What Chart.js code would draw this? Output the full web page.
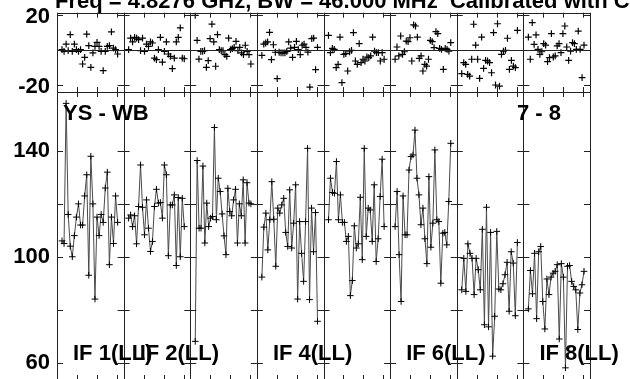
<!DOCTYPE html>
<html><head><meta charset="utf-8">
<script src="https://cdn.jsdelivr.net/npm/chart.js@4.4.0/dist/chart.umd.min.js"></script>
<style>
html,body{margin:0;padding:0;background:#fff;overflow:hidden;width:630px;height:379px;}
#wrap{position:relative;width:630px;height:382px;}
canvas{position:absolute;left:0;top:0;}
</style></head><body>
<div id="wrap"><canvas id="bot" width="630" height="382"></canvas><canvas id="top" width="630" height="100"></canvas></div>
<script>
// ---- data ----
const titleText = "Freq = 4.8276 GHz, BW = 46.000 MHz  Calibrated with CL # 2";
const baselineText = "YS - WB";
const pageText = "7 - 8";
const panelLabels = ["IF 1(LL)", "IF 2(LL)", "", "IF 4(LL)", "", "IF 6(LL)", "", "IF 8(LL)"];
const phaseTicks = [-20, 20];
const ampTicks = [60, 80, 100, 120, 140];
const ampTickLabels = [60, 100, 140];

const phaseIF1 = [0.4,-0.6,3.6,-0.2,9,-0.6,3.6,0.4,-0.6,0.4,-7.8,-4,9.3,2.7,-9.7,-1.5,2.3,4.6,2.3,-0.6,-11.6,-0.6,2.3,2.7,10.5,1.3,0.4,-2.1];
const phaseIF2 = [0.4,7,4.8,7.4,7,6.1,-0.2,7,-0.6,3.6,2.3,4.8,4.2,-4.4,-5.3,0.4,7.4,-6.7,-0.6,4.8,-2.1,-3.4,-10.5,-4.4,4.8,7.4,12.8,-4.4,-4.8];
const phaseIF3 = [20,5.7,-5,-0.6,-0.6,-0.2,-9.7,-5.9,6.7,15,4.8,-9.1,9,0.4,-0.2,-0.2,-2.5,-3.4,7,0.4,1,1.7,5.1,-0.2,1.7,-1.5,-2.5,2.9,-0.6,-2.5,-7.8];
const phaseIF4 = [-2.9,3.6,4.2,4.8,10.3,-5.3,3.2,-1.1,-16.2,-1.1,-1.5,-1.5,-1.5,-0.6,4.8,1.3,-4,1.7,5.1,0.4,-2.5,2.9,3.6,1.7,-1,-21,6.7,7,-11,1.7];
const phaseIF5 = [8.6,-1.3,1.1,0.6,-9.9,-8,7.6,-18.5,-2.3,-1.9,-11.8,-0.8,0,10.1,-6.1,-8,3.8,-7,-5.1,-6.1,-3.8,-4.2,-3.2,7.6,-0.4,-1.3,-1.3,-6.1,-1.3,-5.1];
const phaseIF6 = [-5.1,1.9,-3.2,8.2,-2.3,-0.8,5.3,5,7.2,-6.1,14.5,13.9,7.6,-4.6,-3.2,-11.8,-8,-9,-5.1,5.7,5,1.5,10.7,9.5,1.1,0.6,-10.9,1.1,0.6,-0.4,4.4];
const phaseIF7 = [-13.3,-7,-8,-13.7,-14.7,-5.1,14.9,3,-5.1,-16,7.6,-10.3,-5.7,-6.1,-7,-12.8,10.1,-19.8,15.2,-20.4,-2.3,-0.4,0,6.9,-10.9,-5.7,-9,-9.9,11.4];
const phaseIF8 = [7.6,-5.1,15.8,3.4,8.8,0.6,-2.3,-0.8,3.8,3,-6.5,-4.2,9.5,-3.8,-3.2,2.5,3.8,-1.3,9.5,13.9,1.9,-5.7,-0.4,4.4,3.8,0.6,11,0.6,-15.6,3];

const ampIF1 = [106,105,158,116,104,100,108,115,120,112,112,123,131,93,138,120,84,115,108,116,113,126,132,97,115,105,123,113];
const ampIF2 = [114.6,115.8,111.4,115.5,104.9,119,134.7,118.7,108.3,121.5,110.8,102,105.8,119,125.5,120.3,120.5,114.6,134.7,131,100.4,119.6,119.6,123.4,96.7,122.4,100,122.1,111.4];
const ampIF3 = [68,136.4,110.8,110.8,134.3,105.2,120.3,111.4,114.6,115.2,148.9,114,129.7,124.7,116.2,107.9,100.8,125.9,117.1,115.5,121.5,125.5,105.2,120,115.5,129.1,105.2,128,120.3,120];
const ampIF4 = [92.3,111.2,116.5,102.6,114,128.4,114.2,96.4,118.4,116.5,119.6,122.1,109.2,103.9,125.3,103.3,112.7,127.2,84,113.3,101.3,90.7,113.3,141,83.8,118.4,101.9,116.7,75.6];
const ampIF5 = [114,129.7,124.3,124,136,114,123.4,113,113,105.8,107.7,85.3,91,111.7,103.3,104.9,122.5,98.9,141,107.7,118.4,117.7,105.8,127.2,98.2,106.8,122.8,136.9,111.4];
const ampIF6 = [111.4,124.7,100.8,83.1,123,108.3,108.3,132.8,137.9,138.5,147.9,129.7,123.4,112.1,118.4,106.8,97.4,130.3,103.6,112.7,140.4,114,113.3,90,108.9,109.2,104.5,120.9,142.9];
const ampIF7 = [87.5,99.4,86.9,104.9,101.3,99.4,85.7,99.4,95.1,87.5,110.4,74.3,118.7,73.5,109.2,62.4,77.5,109.6,87.8,87.5,89.8,93.2,97.9,79.4,101.9,97.6,77.7,105.4];
const ampIF8 = [80.3,94.8,86,101.3,76.6,101.9,103.9,83.1,72.7,91.6,85.7,92.3,93.8,94.5,97,68.9,97.4,92.3,58,96.4,96.7,90.7,88.8,87.5,72.5,86.3,89.4,94.5];

const phaseSets = [phaseIF1, phaseIF2, phaseIF3, phaseIF4, phaseIF5, phaseIF6, phaseIF7, phaseIF8];
const ampSets = [ampIF1, ampIF2, ampIF3, ampIF4, ampIF5, ampIF6, ampIF7, ampIF8];

// ---- layout / style ----
const NP = 8;
const FONT = "'Liberation Sans', Arial, Helvetica, sans-serif";
const LEFT = 57, RIGHT_PAD = 40;
function xFrac(i, n) { return 0.075 + i * (0.835 / (n - 1)); }
function toPoints(arr, p) { return arr.map((v, i) => ({ x: p + xFrac(i, arr.length), y: v })); }
const minorFrac = [0.3, 0.6, 0.9];

function yAxis(min, max, ticks, labels, offset) {
  return {
    min, max,
    afterBuildTicks: s => { s.ticks = ticks.map(v => ({ value: v })); },
    afterFit: s => { s.width = LEFT; s.paddingTop = 0; s.paddingBottom = 0; },
    grid: { display: false, drawTicks: false },
    border: { display: false },
    ticks: { font: { family: FONT, size: 22, weight: 'bold' }, color: '#000', padding: 7, labelOffset: offset,
      callback: v => labels.includes(v) ? String(v) : '' }
  };
}

function framePlugin(kind) {
  return {
    id: 'frame' + kind,
    afterDatasetsDraw(chart) {
      const ctx = chart.ctx, xs = chart.scales.x, ys = chart.scales.y, a = chart.chartArea;
      const P = v => Math.round(v) + 0.5;
      ctx.save();
      ctx.strokeStyle = '#222';
      ctx.lineWidth = 1;
      ctx.beginPath();
      for (let p = 0; p <= NP; p++) {
        const x = P(xs.getPixelForValue(p));
        ctx.moveTo(x, a.top); ctx.lineTo(x, a.bottom);
      }
      ctx.moveTo(a.left, P(a.top)); ctx.lineTo(a.right, P(a.top));
      ctx.moveTo(a.left, P(a.bottom)); ctx.lineTo(a.right, P(a.bottom));
      if (kind === 'top') {
        const y0 = P(ys.getPixelForValue(0));
        ctx.moveTo(a.left, y0); ctx.lineTo(a.right, y0);
      }
      const tv = kind === 'top' ? phaseTicks : ampTicks;
      for (let p = 0; p <= NP; p++) {
        const x = xs.getPixelForValue(p);
        for (const v of tv) {
          const y = P(ys.getPixelForValue(v));
          const l = p === 0 ? x : x - 6, r = p === NP ? x : x + 6;
          ctx.moveTo(l, y); ctx.lineTo(r, y);
        }
      }
      for (let p = 0; p < NP; p++) {
        for (const f of minorFrac) {
          const x = P(xs.getPixelForValue(p + f));
          ctx.moveTo(x, a.top); ctx.lineTo(x, a.top + 5);
          ctx.moveTo(x, a.bottom); ctx.lineTo(x, a.bottom - 5);
        }
      }
      ctx.stroke();
      ctx.fillStyle = '#000';
      ctx.font = 'bold 22px ' + FONT;
      ctx.textBaseline = 'alphabetic';
      ctx.textAlign = 'left';
      if (kind === 'top') {
        ctx.fillText(titleText, 55, 8);
      } else {
        ctx.fillText(baselineText, 63, 119.5);
        ctx.fillText(pageText, 517, 119.5);
        panelLabels.forEach((t, p) => {
          if (t) ctx.fillText(t, xs.getPixelForValue(p) + 16, 359.5);
        });
      }
      ctx.restore();
    }
  };
}

const common = {
  responsive: false, animation: false, devicePixelRatio: 1,
  plugins: { legend: { display: false }, tooltip: { enabled: false } },
  events: []
};

new Chart(document.getElementById('top'), {
  type: 'scatter',
  data: {
    datasets: phaseSets.map((arr, p) => ({
      data: toPoints(arr, p), showLine: false,
      pointStyle: 'cross', pointRadius: 3.4, borderWidth: 1.2,
      borderColor: '#000', backgroundColor: '#000'
    }))
  },
  options: Object.assign({}, common, {
    layout: { autoPadding: false, padding: { left: 0, right: RIGHT_PAD, top: 12.7, bottom: 8 } },
    scales: { x: { type: 'linear', min: 0, max: NP, display: false }, y: yAxis(-23.8, 21.5, phaseTicks, phaseTicks, 2) }
  }),
  plugins: [framePlugin('top')]
});

new Chart(document.getElementById('bot'), {
  type: 'scatter',
  data: {
    datasets: ampSets.map((arr, p) => ({
      data: toPoints(arr, p), showLine: true, tension: 0,
      borderColor: '#4a4a4a', borderWidth: 1,
      pointStyle: 'cross', pointRadius: 3.3, pointBorderWidth: 1,
      pointBorderColor: '#000', pointBackgroundColor: '#000'
    }))
  },
  options: Object.assign({}, common, {
    layout: { autoPadding: false, padding: { left: 0, right: RIGHT_PAD, top: 92, bottom: 2 } },
    scales: {
      x: { type: 'linear', min: 0, max: NP, display: false },
      y: yAxis(53.4, 162.3, ampTicks, ampTickLabels, 0)
    }
  }),
  plugins: [framePlugin('bot')]
});
</script>
</body></html>
